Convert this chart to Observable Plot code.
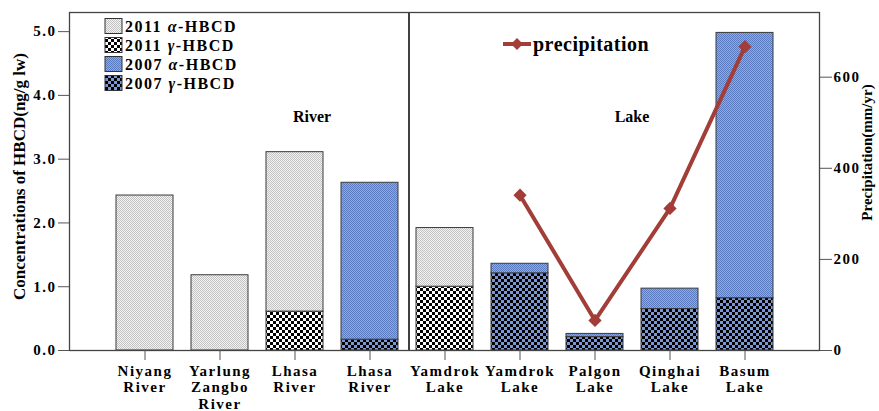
<!DOCTYPE html>
<html>
<head>
<meta charset="utf-8">
<script src="https://cdn.jsdelivr.net/npm/d3@7"></script>
<script src="https://cdn.jsdelivr.net/npm/@observablehq/plot@0.6"></script>
<style>
  body { margin: 0; background: #fff; }
</style>
</head>
<body>
<div id="chart"></div>
<script>
// Sampling sites (unique keys) and their two-line tick labels
const sites = [
  "Niyang River", "Yarlung Zangbo River", "Lhasa River 2011", "Lhasa River 2007",
  "Yamdrok Lake 2011", "Yamdrok Lake 2007", "Palgon Lake", "Qinghai Lake", "Basum Lake"
];
const siteLabels = [
  "Niyang\nRiver", "Yarlung\nZangbo\nRiver", "Lhasa\nRiver", "Lhasa\nRiver",
  "Yamdrok\nLake", "Yamdrok\nLake", "Palgon\nLake", "Qinghai\nLake", "Basum\nLake"
];
const surveyYear = [2011, 2011, 2011, 2007, 2011, 2007, 2007, 2007, 2007];
// HBCD concentrations (ng/g lw)
const gammaHBCD = [0, 0, 0.61, 0.17, 1.00, 1.21, 0.21, 0.65, 0.82];
const alphaHBCD = [2.43, 1.18, 2.50, 2.46, 0.92, 0.15, 0.05, 0.32, 4.16];
// Annual precipitation (mm/yr), lakes only
const precipitation = [null, null, null, null, null, 341, 66, 312, 667];

const concTicks = [0, 1, 2, 3, 4, 5];
const precipTicks = [0, 200, 400, 600];
const legendItems = [
  {year: "2011", greek: "α", pat: "p2011a"},
  {year: "2011", greek: "γ", pat: "p2011g"},
  {year: "2007", greek: "α", pat: "p2007a"},
  {year: "2007", greek: "γ", pat: "p2007g"}
];

const k = 140; // mm/yr per ng/g lw on the shared y scale
const lineColor = "#a23d38";

const rows = sites.map((site, i) => ({
  site, label: siteLabels[i], year: surveyYear[i],
  gamma: gammaHBCD[i], alpha: alphaHBCD[i], precip: precipitation[i]
}));
const labelOf = new Map(rows.map(d => [d.site, d.label]));

const gammaSeg = year => rows.filter(d => d.year === year && d.gamma > 0)
  .map(d => ({site: d.site, y1: 0, y2: d.gamma}));
const alphaSeg = year => rows.filter(d => d.year === year)
  .map(d => ({site: d.site, y1: d.gamma, y2: d.gamma + d.alpha}));

const barStyle = {x: "site", y1: "y1", y2: "y2", stroke: "#3a3a3a", strokeWidth: 1};

const chart = Plot.plot({
  width: 879,
  height: 411,
  marginLeft: 69,
  marginRight: 60,
  marginTop: 12,
  marginBottom: 61,
  style: {
    fontFamily: "'Liberation Serif', 'Times New Roman', serif",
    fontSize: "15px",
    fontWeight: "bold",
    color: "black",
    background: "white",
    overflow: "visible"
  },
  x: {type: "band", domain: sites, paddingInner: 0.24, paddingOuter: 0.62},
  y: {domain: [0, 5.3]},
  marks: [
    Plot.barY(gammaSeg(2011), {...barStyle, fill: "url(#p2011g)"}),
    Plot.barY(alphaSeg(2011), {...barStyle, fill: "url(#p2011a)"}),
    Plot.barY(gammaSeg(2007), {...barStyle, fill: "url(#p2007g)"}),
    Plot.barY(alphaSeg(2007), {...barStyle, fill: "url(#p2007a)"}),
    // River / lake divider
    Plot.ruleX([sites[3]], {dx: 39, stroke: "#111", strokeWidth: 1.6}),
    Plot.text([{site: sites[2], y: 3.67, t: "River"}],
      {x: "site", y: "y", text: "t", dx: 17, fontSize: 16, ariaLabel: "group label"}),
    Plot.text([{site: sites[6], y: 3.67, t: "Lake"}],
      {x: "site", y: "y", text: "t", dx: 37, fontSize: 16, ariaLabel: "group label"}),
    // Precipitation on the secondary axis
    Plot.line(rows, {x: "site", y: d => d.precip == null ? null : d.precip / k,
      stroke: lineColor, strokeWidth: 4}),
    Plot.dot(rows.filter(d => d.precip != null), {x: "site", y: d => d.precip / k,
      symbol: "diamond2", r: 5, fill: lineColor, stroke: lineColor}),
    Plot.frame({stroke: "#444", strokeWidth: 1.3}),
    Plot.axisY({ticks: concTicks, tickFormat: d3.format(".1f"), tickSize: 11,
      tickPadding: 2, label: null, stroke: "#555", fill: "black"}),
    Plot.axisY({anchor: "right", ticks: precipTicks.map(v => v / k),
      tickFormat: v => Math.round(v * k), tickSize: 12, tickPadding: 2,
      label: null, stroke: "#555", fill: "black"}),
    Plot.axisX({tickFormat: s => labelOf.get(s), tickSize: 10, tickPadding: 3,
      lineHeight: 1.13, label: null, stroke: "#555", fill: "black"}),
    Plot.text(["Concentrations of HBCD(ng/g lw)"], {frameAnchor: "left", rotate: -90,
      textAnchor: "middle", dx: -50, dy: -5, fontSize: 17}),
    Plot.text(["Precipitation(mm/yr)"], {frameAnchor: "right", rotate: -90,
      textAnchor: "middle", dx: 48, dy: -29, fontSize: 15})
  ]
});

const svg = d3.select(chart);

// Wider spacing for tick labels and group labels
svg.selectAll('g[aria-label$="tick label"] text, g[aria-label="group label"] text')
  .style("letter-spacing", "1.5px");

// Fill patterns for the four series
const defs = svg.insert("defs", ":first-child");
function finePattern(id, light, dark) {
  const p = defs.append("pattern").attr("id", id).attr("patternUnits", "userSpaceOnUse")
    .attr("width", 2).attr("height", 2);
  p.append("rect").attr("width", 2).attr("height", 2).attr("fill", light);
  p.append("rect").attr("width", 1).attr("height", 1).attr("fill", dark);
  p.append("rect").attr("x", 1).attr("y", 1).attr("width", 1).attr("height", 1).attr("fill", dark);
}
function checkPattern(id, base) {
  const p = defs.append("pattern").attr("id", id).attr("patternUnits", "userSpaceOnUse")
    .attr("width", 6).attr("height", 6);
  p.append("rect").attr("width", 6).attr("height", 6).attr("fill", base);
  p.append("rect").attr("width", 3).attr("height", 3).attr("fill", "#000");
  p.append("rect").attr("x", 3).attr("y", 3).attr("width", 3).attr("height", 3).attr("fill", "#000");
}
finePattern("p2011a", "#f3f3f3", "#c2c2c2");
checkPattern("p2011g", "#ffffff");
finePattern("p2007a", "#8eaae0", "#5a7bc0");
checkPattern("p2007g", "#7a98d6");

// Series legend (top left, inside the frame)
const leg = svg.append("g").attr("class", "legend").attr("text-anchor", "start");
legendItems.forEach((item, i) => {
  const cy = 26 + i * 19;
  leg.append("rect").attr("x", 105).attr("y", cy - 7.5).attr("width", 17).attr("height", 15)
    .attr("fill", `url(#${item.pat})`).attr("stroke", "#333").attr("stroke-width", 1);
  const t = leg.append("text").attr("x", 125).attr("y", cy + 5.5)
    .attr("font-size", 16).attr("font-weight", "bold").style("letter-spacing", "1.5px");
  t.append("tspan").text(item.year + " ");
  t.append("tspan").attr("font-style", "italic").text(item.greek);
  t.append("tspan").text("-HBCD");
});

// Precipitation legend
const pl = svg.append("g").attr("class", "legend").attr("text-anchor", "start");
pl.append("line").attr("x1", 503).attr("x2", 531).attr("y1", 44).attr("y2", 44)
  .attr("stroke", lineColor).attr("stroke-width", 4);
pl.append("path").attr("d", d3.symbol(d3.symbolDiamond2, 90)())
  .attr("transform", "translate(517,44)").attr("fill", lineColor);
pl.append("text").attr("x", 533).attr("y", 51).attr("font-size", 20)
  .attr("font-weight", "bold").style("letter-spacing", "0.5px").text("precipitation");

document.getElementById("chart").append(chart);
</script>
</body>
</html>
